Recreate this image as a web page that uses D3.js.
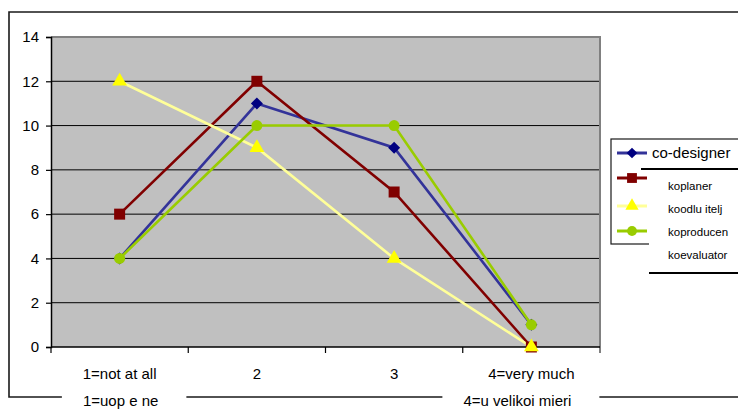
<!DOCTYPE html>
<html>
<head>
<meta charset="utf-8">
<script src="https://cdn.jsdelivr.net/npm/d3@7"></script>
<style>
html,body{margin:0;padding:0;background:#fff;overflow:hidden;}
svg{display:block;font-family:"Liberation Sans",Arial,sans-serif;}
</style>
</head>
<body>
<svg id="chart" width="738" height="410"></svg>
<script>
const categories = ["1=not at all", "2", "3", "4=very much"];
const categories2 = ["1=uop e ne", "", "", "4=u velikoi mieri"];
const seriesNames = ["co-designer", "koplaner", "koodlu itelj", "koproducen", "koevaluator"];
const coDesigner = [4, 11, 9, 1];
const koplaner = [6, 12, 7, 0];
const koodlucitelj = [12, 9, 4, 0];
const koproducent = [4, 10, 10, 1];
const yTicks = [0, 2, 4, 6, 8, 10, 12, 14];

const series = [
  {name: seriesNames[0], values: coDesigner, line: "#333399", mark: "#000080", sym: d3.symbolSquare, rot: 45, size: 72},
  {name: seriesNames[1], values: koplaner, line: "#800000", mark: "#800000", sym: d3.symbolSquare, rot: 0, size: 121},
  {name: seriesNames[2], values: koodlucitelj, line: "#FFFF99", mark: "#FFFF00", sym: d3.symbolTriangle, rot: 0, size: 95},
  {name: seriesNames[3], values: koproducent, line: "#99CC00", mark: "#99CC00", sym: d3.symbolCircle, rot: 0, size: 95}
];

const svg = d3.select("#chart");
const W = 738, H = 410;
const plot = {left: 51, right: 600, top: 37, bottom: 347};

// outer chart frame (partially visible)
svg.append("path")
  .attr("d", `M${W + 5},12 H9 V397 H${W + 5}`)
  .attr("fill", "none").attr("stroke", "#1a1a1a").attr("stroke-width", 1.6);

const x = d3.scaleBand().domain(categories).range([plot.left, plot.right]).padding(0);
const y = d3.scaleLinear().domain([0, 14]).range([plot.bottom, plot.top]);
const cx = c => x(c) + x.bandwidth() / 2;

// plot background
svg.append("rect")
  .attr("x", plot.left).attr("y", plot.top)
  .attr("width", plot.right - plot.left).attr("height", plot.bottom - plot.top)
  .attr("fill", "#C0C0C0");

// gridlines
svg.append("g").selectAll("line")
  .data(yTicks.filter(t => t > 0 && t < 14))
  .join("line")
  .attr("x1", plot.left).attr("x2", plot.right)
  .attr("y1", d => y(d)).attr("y2", d => y(d))
  .attr("stroke", "#000").attr("stroke-width", 1);

// plot border top/right (gray)
svg.append("path")
  .attr("d", `M${plot.left},${plot.top} H${plot.right} V${plot.bottom + 6}`)
  .attr("fill", "none").attr("stroke", "#808080").attr("stroke-width", 2);

// y axis
const yAxis = d3.axisLeft(y).tickValues(yTicks).tickSize(5).tickPadding(7).tickFormat(d3.format("d"));
const gy = svg.append("g").attr("transform", `translate(${plot.left},0)`).call(yAxis);
gy.select(".domain").attr("stroke", "#000").attr("stroke-width", 1.5);
gy.selectAll(".tick line").attr("stroke", "#000").attr("stroke-width", 1.2);
gy.selectAll(".tick text").attr("font-size", 15).attr("fill", "#000")
  .attr("font-family", "Liberation Sans, Arial, sans-serif");

// x axis
const gx = svg.append("g").attr("transform", `translate(0,${plot.bottom})`);
gx.append("line").attr("x1", plot.left).attr("x2", plot.right).attr("y1", 0).attr("y2", 0)
  .attr("stroke", "#000").attr("stroke-width", 1.5);
const edges = categories.map(c => x(c));
gx.selectAll("line.tk").data(edges).join("line").attr("class", "tk")
  .attr("x1", d => d).attr("x2", d => d).attr("y1", 0).attr("y2", 6)
  .attr("stroke", "#000").attr("stroke-width", 1.2);
gx.selectAll("text.lab").data(categories).join("text").attr("class", "lab")
  .attr("x", d => cx(d)).attr("y", 32)
  .attr("text-anchor", "middle").attr("font-size", 15).attr("fill", "#000")
  .text(d => d);

// second row of category labels sitting on the frame
const secondOffsets = [1, 0, 0, -14];
const g2 = svg.append("g");
categories2.forEach((t, i) => {
  if (!t) return;
  const tx = g2.append("text")
    .attr("x", cx(categories[i]) + secondOffsets[i]).attr("y", 406)
    .attr("text-anchor", "middle").attr("font-size", 15).attr("fill", "#000")
    .text(t);
  const bb = tx.node().getBBox();
  g2.insert("rect", "text")
    .attr("x", bb.x - 21).attr("y", 393).attr("width", bb.width + 49).attr("height", 20)
    .attr("fill", "#fff");
});

// series lines and markers
const line = d3.line().x((d, i) => cx(categories[i])).y(d => y(d));
series.forEach(s => {
  svg.append("path").datum(s.values)
    .attr("d", line).attr("fill", "none")
    .attr("stroke", s.line).attr("stroke-width", 2.6).attr("stroke-linejoin", "miter");
});
series.forEach(s => {
  svg.append("g").selectAll("path")
    .data(s.values).join("path")
    .attr("transform", (d, i) => `translate(${cx(categories[i])},${y(d)}) rotate(${s.rot})`)
    .attr("d", d3.symbol().type(s.sym).size(s.size))
    .attr("fill", s.mark);
});

// legend
const lg = svg.append("g");
lg.append("rect").attr("x", 611).attr("y", 139).attr("width", 160).attr("height", 105)
  .attr("fill", "#fff").attr("stroke", "#1a1a1a").attr("stroke-width", 1.2);
lg.append("rect").attr("x", 649).attr("y", 170).attr("width", 120).attr("height", 102)
  .attr("fill", "#fff");
lg.append("line").attr("x1", 641).attr("x2", 760).attr("y1", 169).attr("y2", 169)
  .attr("stroke", "#000").attr("stroke-width", 2);
lg.append("line").attr("x1", 649).attr("x2", 760).attr("y1", 273).attr("y2", 273)
  .attr("stroke", "#000").attr("stroke-width", 2);

const legendY = [153, 178, 206, 231];
series.forEach((s, i) => {
  lg.append("line").attr("x1", 617).attr("x2", 647).attr("y1", legendY[i]).attr("y2", legendY[i])
    .attr("stroke", s.line).attr("stroke-width", 3);
  lg.append("path").attr("transform", `translate(632,${legendY[i]}) rotate(${s.rot})`)
    .attr("d", d3.symbol().type(s.sym).size(s.size * 0.8)).attr("fill", s.mark);
});
lg.append("text").attr("x", 652).attr("y", 158).attr("font-size", 15).attr("fill", "#000")
  .text(seriesNames[0]);
const smallY = [190, 213, 236, 259];
seriesNames.slice(1).forEach((n, i) => {
  lg.append("text").attr("x", 668).attr("y", smallY[i]).attr("font-size", 11.5).attr("fill", "#000")
    .text(n);
});
</script>
</body>
</html>
